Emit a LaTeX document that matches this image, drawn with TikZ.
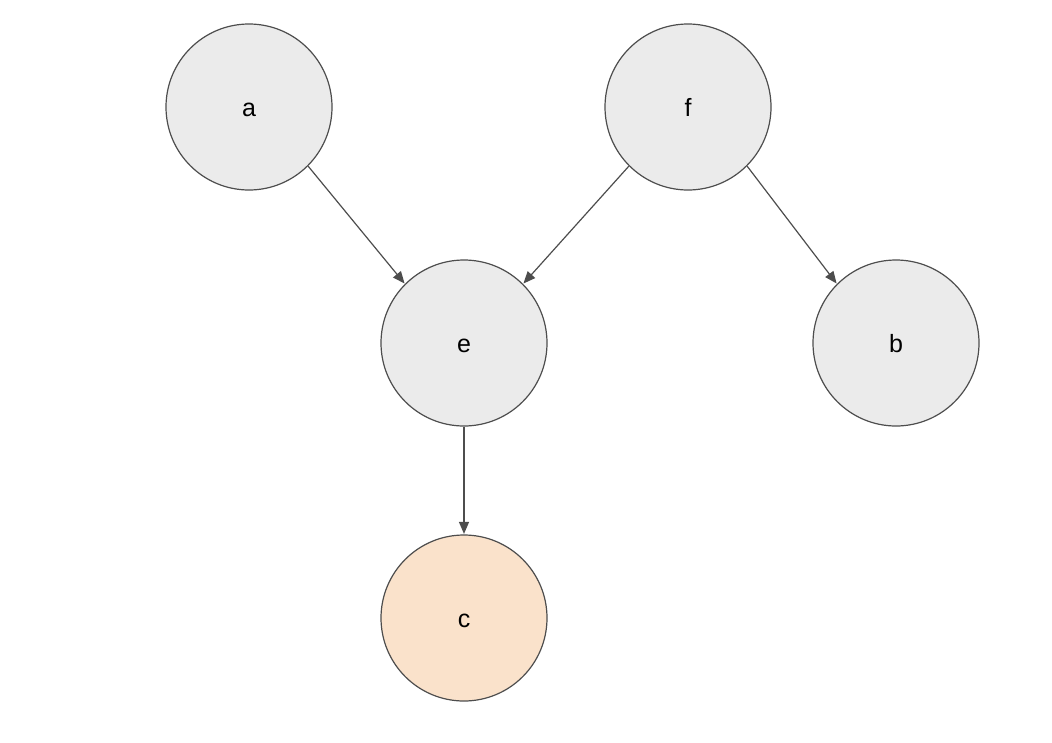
\documentclass[tikz,border=0pt]{standalone}
\usepackage{fontspec}
\setmainfont{Liberation Sans}
\usetikzlibrary{arrows.meta}
\definecolor{edgec}{HTML}{4D4D4D}
\definecolor{greyfill}{HTML}{EBEBEB}
\definecolor{peach}{HTML}{FAE2CB}
\tikzset{
  vnode/.style={circle, draw=edgec, line width=1.2pt, fill=greyfill, minimum size=166pt, inner sep=0pt, text height=19pt, text depth=0pt, font=\fontsize{25}{30}\selectfont},
  hinode/.style={vnode, fill=peach},
  conn/.style={draw=edgec, line width=1.2pt, -{Triangle[length=12pt,width=10pt]}, shorten >=0.5pt}
}
\begin{document}
\begin{tikzpicture}[x=1pt,y=-1pt]
\useasboundingbox (0,0) rectangle (1052,742);
\node[vnode] (a) at (249,107) {a};
\node[vnode] (f) at (688,107) {f};
\node[vnode] (e) at (464,343) {e};
\node[vnode] (b) at (896,343) {b};
\node[hinode] (c) at (464,618) {c};
\draw[conn] (a.south east) -- (e.north west);
\draw[conn] (f.south west) -- (e.north east);
\draw[conn] (f.south east) -- (b.north west);
\draw[conn] (e.south) -- (c.north);
\end{tikzpicture}
\end{document}
